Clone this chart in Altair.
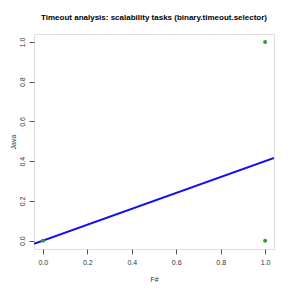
import altair as alt
import pandas as pd

# data
fsharp = [0.0, 1.0, 1.0]
java = [0.0, 1.0, 0.0]
fit_intercept = 0.0
fit_slope = 0.4
x_domain = [-0.04, 1.04]
y_domain = [-0.042, 1.04]
ticks = [0.0, 0.2, 0.4, 0.6, 0.8, 1.0]

pts = pd.DataFrame({"F#": fsharp, "Java": java})
line_df = pd.DataFrame({"F#": x_domain,
                        "Java": [fit_intercept + fit_slope * v for v in x_domain]})

FONT = "Liberation Sans"

xs = alt.Scale(domain=x_domain, nice=False, zero=False)
ys = alt.Scale(domain=y_domain, nice=False, zero=False)

xaxis = alt.Axis(values=ticks, format=".1f", grid=False, domain=False,
                 tickColor="#555555", tickSize=5, labelFontSize=7, labelFont=FONT,
                 labelColor="#333333", labelPadding=4, titleFont=FONT,
                 titleFontSize=7, titleFontWeight="normal", titleColor="#333333",
                 titlePadding=10)
yaxis = alt.Axis(values=ticks, format=".1f", grid=False, domain=False,
                 tickColor="#555555", tickSize=5, labelFontSize=7, labelFont=FONT,
                 labelColor="#333333", labelAngle=-90, labelAlign="center",
                 labelBaseline="bottom", labelPadding=4, titleFont=FONT,
                 titleFontSize=7, titleFontWeight="normal", titleColor="#333333",
                 titlePadding=2)

points = alt.Chart(pts).mark_circle(size=16, color="#2ca02c", opacity=1).encode(
    x=alt.X("F#:Q", scale=xs, axis=xaxis, title="F#"),
    y=alt.Y("Java:Q", scale=ys, axis=yaxis, title="Java"),
)
line = alt.Chart(line_df).mark_line(color="#1010f0", strokeWidth=2, clip=True).encode(
    x=alt.X("F#:Q", scale=xs),
    y=alt.Y("Java:Q", scale=ys),
)

chart = alt.layer(line, points).properties(
    width=240, height=215,
    autosize=alt.AutoSizeParams(type="none"),
    padding={"left": 26, "top": 26, "right": 9, "bottom": 34},
    title=alt.TitleParams("Timeout analysis: scalability tasks (binary.timeout.selector)",
                          font=FONT, fontSize=8, fontWeight="bold", color="#000000",
                          anchor="middle", offset=12),
).configure_view(stroke="#666666", strokeWidth=1).configure(background="white")

chart.save("out.html", embed_options={"renderer": "svg", "actions": False})
